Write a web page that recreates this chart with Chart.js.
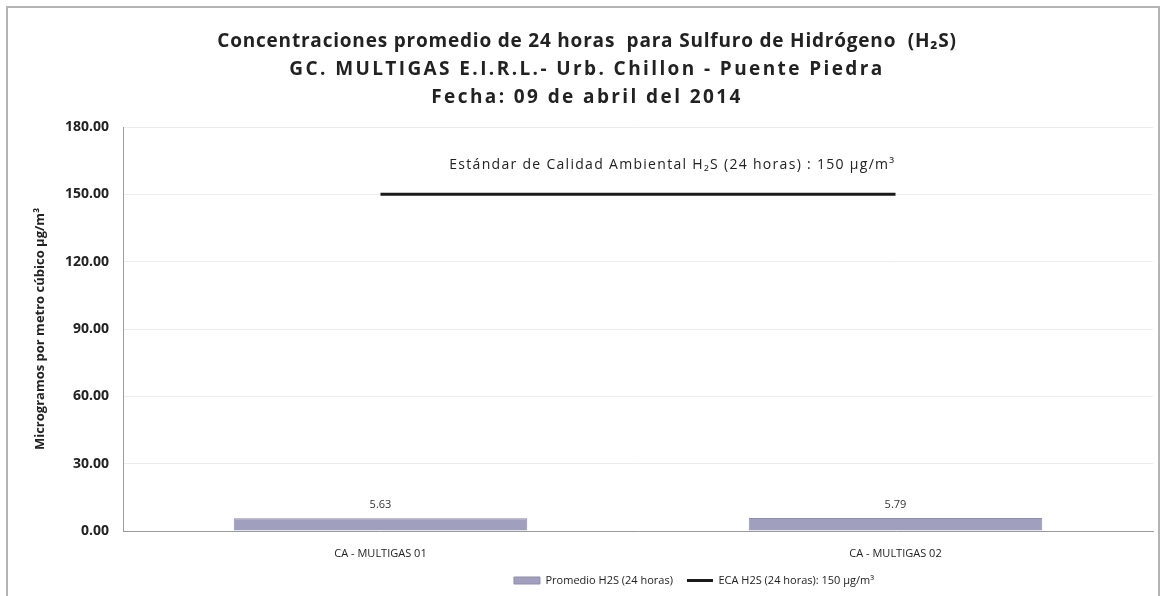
<!DOCTYPE html>
<html lang="es">
<head>
    <meta charset="UTF-8">
    <title>Concentraciones H2S</title>
    <script src="https://cdn.jsdelivr.net/npm/chart.js"></script>
    <style>
        body { margin: 0; background: #ffffff; }
        #wrap { width: 1166px; height: 596px; position: relative; }
    </style>
</head>
<body>
    <div id="wrap">
        <canvas id="h2sChart" width="1166" height="596"></canvas>
    </div>

    <script>
        // datos del gráfico
        const estaciones = ["CA - MULTIGAS 01", "CA - MULTIGAS 02"];
        const promedioH2S = [5.63, 5.79];
        const ecaH2S = [150, 150];
        const ticksY = [0, 30, 60, 90, 120, 150, 180];

        const tituloLineas = [
            "Concentraciones promedio de 24 horas  para Sulfuro de Hidrógeno  (H\u2082S)",
            "GC. MULTIGAS E.I.R.L.- Urb. Chillon - Puente Piedra",
            "Fecha: 09 de abril del 2014"
        ];
        const espaciadoTitulo = ["0.8px", "2.4px", "2.4px"];
        const textoEstandar = "Estándar de Calidad Ambiental H\u2082S (24 horas) : 150 µg/m³";

        const FONT = "'Open Sans', Lato, sans-serif";

        // marco exterior + título (dibujado a mano para poder espaciar letras)
        const marcoPlugin = {
            id: "marco",
            afterLayout(chart) {
                // la leyenda del original está corrida hacia la derecha
                const lg = chart.legend;
                const centro = (chart.chartArea.left + chart.chartArea.right) / 2 + 56;
                const d = centro - (lg.left + lg.right) / 2;
                lg.left += d;
                lg.right += d;
            },
            beforeDraw(chart) {
                const ctx = chart.ctx;
                ctx.save();
                ctx.fillStyle = "#ffffff";
                ctx.fillRect(0, 0, chart.width, chart.height);
                ctx.strokeStyle = "#b4b4b4";
                ctx.lineWidth = 2;
                ctx.strokeRect(7, 7, chart.width - 14, chart.height + 10);

                ctx.fillStyle = "#222222";
                ctx.font = "bold 19px " + FONT;
                ctx.textAlign = "center";
                ctx.textBaseline = "middle";
                tituloLineas.forEach((t, i) => {
                    ctx.letterSpacing = espaciadoTitulo[i];
                    ctx.fillText(t, chart.width / 2 + 4, 42 + i * 28);
                });
                ctx.restore();
            }
        };

        // etiquetas de valores y texto del estándar
        const etiquetasPlugin = {
            id: "etiquetas",
            afterDatasetsDraw(chart) {
                const ctx = chart.ctx;
                ctx.save();
                ctx.fillStyle = "#333333";
                ctx.font = "11px " + FONT;
                ctx.textAlign = "center";
                ctx.textBaseline = "bottom";
                chart.getDatasetMeta(0).data.forEach((bar, i) => {
                    ctx.fillText(promedioH2S[i].toFixed(2), bar.x, bar.y - 8);
                });

                const puntos = chart.getDatasetMeta(1).data;
                const fin = puntos[puntos.length - 1];
                ctx.font = "14px " + FONT;
                ctx.letterSpacing = "1.3px";
                ctx.textAlign = "right";
                ctx.textBaseline = "middle";
                ctx.fillStyle = "#222222";
                ctx.fillText(textoEstandar, fin.x, fin.y - 29);
                ctx.restore();
            }
        };

        new Chart(document.getElementById("h2sChart"), {
            data: {
                labels: estaciones,
                datasets: [
                    {
                        type: "bar",
                        label: "Promedio H2S (24 horas)",
                        data: promedioH2S,
                        backgroundColor: "#a09fbd",
                        borderColor: "#8e8dae",
                        borderWidth: 1,
                        barPercentage: 0.57,
                        categoryPercentage: 1,
                        pointStyle: "rect",
                        order: 2
                    },
                    {
                        type: "line",
                        label: "ECA H2S (24 horas): 150 µg/m³",
                        data: ecaH2S,
                        borderColor: "#1a1a1a",
                        backgroundColor: "#1a1a1a",
                        borderWidth: 3,
                        pointRadius: 0,
                        pointStyle: "line",
                        order: 1
                    }
                ]
            },
            options: {
                responsive: false,
                animation: false,
                layout: { padding: { left: 8, right: 13, top: 127, bottom: 0 } },
                plugins: {
                    title: { display: false },
                    legend: {
                        position: "bottom",
                        labels: {
                            usePointStyle: true,
                            pointStyleWidth: 26,
                            boxHeight: 7,
                            color: "#222222",
                            font: { family: FONT, size: 11 },
                            padding: 14,
                            sort: (a, b) => a.datasetIndex - b.datasetIndex
                        }
                    },
                    tooltip: { enabled: false }
                },
                scales: {
                    x: {
                        grid: { display: false },
                        border: { color: "#9a9a9a" },
                        ticks: { color: "#222222", font: { family: FONT, size: 11 }, padding: 8 },
                        afterFit(scale) { scale.height = 30; }
                    },
                    y: {
                        min: ticksY[0],
                        max: ticksY[ticksY.length - 1],
                        afterBuildTicks(scale) {
                            scale.ticks = ticksY.map(v => ({ value: v }));
                        },
                        grid: { color: "#ececec", drawTicks: false },
                        border: { color: "#9a9aaa" },
                        ticks: {
                            color: "#222222",
                            font: { family: FONT, size: 14, weight: "bold" },
                            padding: 14,
                            callback: v => Number(v).toFixed(2)
                        },
                        title: {
                            display: true,
                            text: "Microgramos por metro cúbico µg/m³",
                            color: "#222222",
                            font: { family: FONT, size: 13, weight: "bold" },
                            padding: { top: 24, bottom: 0 }
                        },
                        afterFit(scale) { scale.width = 115; }
                    }
                }
            },
            plugins: [marcoPlugin, etiquetasPlugin]
        });
    </script>
</body>
</html>
